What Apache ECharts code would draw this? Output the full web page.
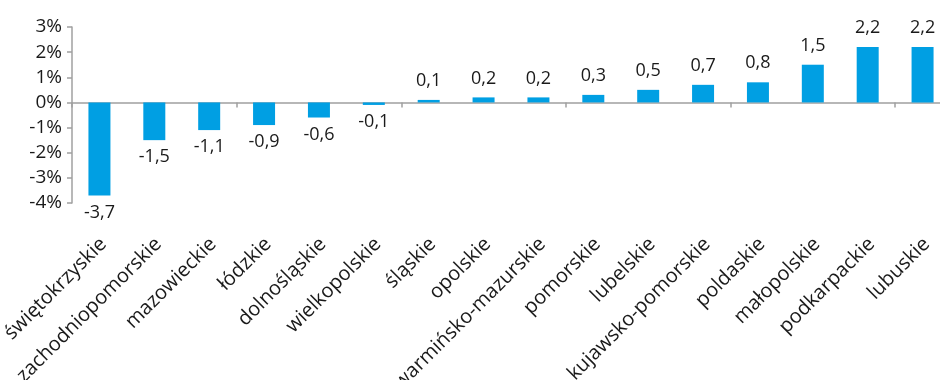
<!DOCTYPE html>
<html>
<head>
<meta charset="utf-8">
<script src="https://cdn.jsdelivr.net/npm/echarts@6/dist/echarts.min.js"></script>
<style>
  html, body { margin: 0; padding: 0; background: #fff; }
  #chart { width: 940px; height: 380px; }
</style>
</head>
<body>
<div id="chart"></div>
<script>
// Regional change, %
const regions = [
  'świętokrzyskie', 'zachodniopomorskie', 'mazowieckie', 'łódzkie', 'dolnośląskie',
  'wielkopolskie', 'śląskie', 'opolskie', 'warmińsko-mazurskie', 'pomorskie',
  'lubelskie', 'kujawsko-pomorskie', 'poldaskie', 'małopolskie', 'podkarpackie', 'lubuskie'
];
const changes = [-3.7, -1.5, -1.1, -0.9, -0.6, -0.1, 0.1, 0.2, 0.2, 0.3, 0.5, 0.7, 0.8, 1.5, 2.2, 2.2];
const yMin = -4, yMax = 3, yStep = 1;

const FONT = '"Open Sans", "Noto Sans", sans-serif';
const AXIS_GREY = '#a0a0a0';
const TEXT = '#1a1a1a';

const chart = echarts.init(document.getElementById('chart'), null, { renderer: 'canvas' });

chart.setOption({
  animation: false,
  grid: [
    // plot area (runs a little past the right edge of the canvas)
    { left: 72, top: 27, width: 878, height: 176, containLabel: false, outerBoundsMode: 'none' },
    // slightly offset twin grid carrying the rotated region names
    { left: 76, top: 27, width: 878, height: 176, containLabel: false, outerBoundsMode: 'none' }
  ],
  xAxis: [
    {
      // axis line through zero with ticks at category boundaries
      type: 'category',
      gridIndex: 0,
      data: regions,
      axisLine: { onZero: true, lineStyle: { color: AXIS_GREY, width: 1.5 } },
      axisTick: { show: true, length: 5, lineStyle: { color: AXIS_GREY, width: 1.5 } },
      axisLabel: { show: false }
    },
    {
      // region names below the plot
      type: 'category',
      gridIndex: 1,
      data: regions,
      position: 'bottom',
      axisLine: { show: false, onZero: false },
      axisTick: { show: false },
      axisLabel: {
        rotate: 45,
        interval: 0,
        margin: 38,
        fontFamily: FONT,
        fontSize: 20,
        color: TEXT
      }
    }
  ],
  yAxis: [
    {
      type: 'value',
      gridIndex: 0,
      min: yMin,
      max: yMax,
      interval: yStep,
      axisLine: { show: true, lineStyle: { color: AXIS_GREY, width: 1.5 } },
      axisTick: { show: true, length: 5, lineStyle: { color: AXIS_GREY, width: 1.5 } },
      splitLine: { show: false },
      axisLabel: {
        formatter: '{value}%',
        margin: 10,
        fontFamily: FONT,
        fontSize: 19,
        color: TEXT
      }
    },
    {
      type: 'value',
      gridIndex: 1,
      min: yMin,
      max: yMax,
      show: false
    }
  ],
  series: [{
    type: 'bar',
    xAxisIndex: 0,
    yAxisIndex: 0,
    data: changes.map(v => ({
      value: v,
      label: v < 0 ? { position: 'bottom', distance: 8 } : { position: 'top', distance: 10 }
    })),
    barWidth: 22,
    itemStyle: { color: '#009fe3' },
    label: {
      show: true,
      fontFamily: FONT,
      fontSize: 18,
      color: TEXT,
      formatter: p => String(p.value).replace('.', ',')
    }
  }]
});
</script>
</body>
</html>
